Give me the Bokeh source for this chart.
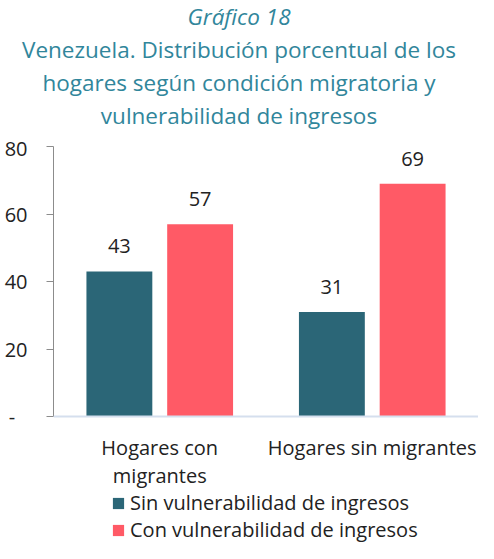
from bokeh.plotting import figure
from bokeh.models import (ColumnDataSource, FactorRange, Legend, LegendItem,
                          FixedTicker, LabelSet, Span, Div)
from bokeh.layouts import column
from bokeh.core.properties import value
from bokeh.transform import dodge
from bokeh.embed import file_html
from bokeh.resources import INLINE

categories = ["Hogares con\nmigrantes", "Hogares sin migrantes"]
sin_vuln = [43, 31]
con_vuln = [57, 69]
series_names = ["Sin vulnerabilidad de ingresos", "Con vulnerabilidad de ingresos"]
title_head = "Gráfico 18"
title_lines = ["Venezuela. Distribución porcentual de los",
               "hogares según condición migratoria y",
               "vulnerabilidad de ingresos"]
y_ticks = [0, 20, 40, 60, 80]
y_max = 80
y_min_view = -37.6  # extra room under the baseline for labels and legend

TEAL = "#2b6677"
RED = "#ff5a66"
TITLE_C = "#31869b"
FONT = "Open Sans"
TXT = "#222222"
FS = "20px"

title_html = ('<div style="font-family:\'Open Sans\';font-size:22.5px;line-height:33px;'
              'color:%s;text-align:center;width:478px;">' % TITLE_C
              + '<i>%s</i><br>' % title_head + '<br>'.join(title_lines) + '</div>')
div = Div(text=title_html, width=478, height=134, margin=(0, 0, 0, 0))

line1 = [c.split("\n")[0] for c in categories]
line2 = [c.split("\n")[1] if "\n" in c else "" for c in categories]

src = ColumnDataSource(dict(cat=categories, sin=sin_vuln, con=con_vuln,
                            sin_t=[str(v) for v in sin_vuln],
                            con_t=[str(v) for v in con_vuln],
                            l1=line1, l2=line2, zero=[0, 0]))

p = figure(width=478, height=409, x_range=FactorRange(*categories),
           y_range=(y_min_view, y_max),
           output_backend="svg", toolbar_location=None, margin=(0, 0, 0, 0),
           min_border_left=53, min_border_right=0, min_border_top=12, min_border_bottom=0)
p.outline_line_color = None
p.grid.visible = False
p.xaxis.visible = False

r1 = p.vbar(x=dodge("cat", -0.19, range=p.x_range), top="sin", width=0.31, source=src,
            color=TEAL, line_color=None)
r2 = p.vbar(x=dodge("cat", 0.19, range=p.x_range), top="con", width=0.31, source=src,
            color=RED, line_color=None)

# baseline
p.add_layout(Span(location=0, dimension="width", line_color="#d5dfee", line_width=2))

for col, ycol, off in (("sin_t", "sin", -0.19), ("con_t", "con", 0.19)):
    p.add_layout(LabelSet(x=dodge("cat", off, range=p.x_range), y=ycol, text=col, source=src,
                          text_align="center", text_baseline="bottom", y_offset=18,
                          text_font=value(FONT), text_font_size=value(FS), text_color=TXT))

# category labels (two lines, centred)
for col, yoff in (("l1", -31), ("l2", -59)):
    p.add_layout(LabelSet(x="cat", y="zero", text=col, source=src, y_offset=yoff,
                          text_align="center", text_baseline="middle",
                          text_font=value(FONT), text_font_size=value(FS), text_color=TXT))

# y axis
p.yaxis.ticker = FixedTicker(ticks=y_ticks)
p.yaxis.bounds = (0, y_max)
p.yaxis.major_label_overrides = {0: "-\u00a0\u00a0\u200a"}
p.yaxis.axis_line_color = "#8c8c8c"
p.yaxis.major_tick_line_color = "#8c8c8c"
p.yaxis.major_tick_out = 7
p.yaxis.major_tick_in = 0
p.yaxis.minor_tick_line_color = None
p.yaxis.major_label_text_font = FONT
p.yaxis.major_label_text_font_size = FS
p.yaxis.major_label_text_color = TXT
p.yaxis.major_label_standoff = 19

legend = Legend(items=[LegendItem(label=series_names[0], renderers=[r1]),
                       LegendItem(label=series_names[1], renderers=[r2])],
                orientation="vertical", location=(58, 0),
                label_text_font=FONT, label_text_font_size=FS, label_text_color=TXT,
                glyph_width=14, glyph_height=14, label_standoff=5, spacing=0,
                padding=0, margin=0, border_line_color=None, background_fill_alpha=0,
                label_height=24)
p.add_layout(legend, "center")

layout = column(div, p, spacing=0)
open("out.html", "w").write(file_html(layout, INLINE))
